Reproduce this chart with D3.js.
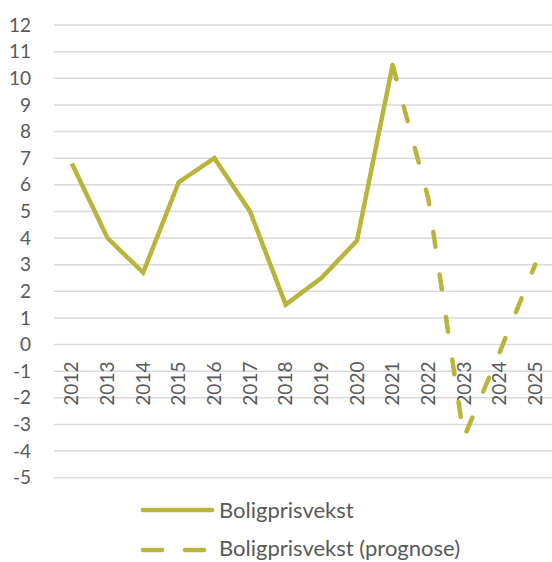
<!DOCTYPE html>
<html lang="no">
<head>
<meta charset="UTF-8">
<title>Boligprisvekst</title>
<script src="https://d3js.org/d3.v7.min.js"></script>
<style>
body { margin: 0; background: #fff; }
svg text { font-family: Lato, "Open Sans", sans-serif; fill: #595959; }
</style>
</head>
<body>
<div id="chart"></div>
<script>
// data
var years = ["2012","2013","2014","2015","2016","2017","2018","2019","2020","2021","2022","2023","2024","2025"];
var actualYears = ["2012","2013","2014","2015","2016","2017","2018","2019","2020","2021"];
var actualValues = [6.8, 4.0, 2.7, 6.1, 7.0, 5.0, 1.5, 2.5, 3.9, 10.5];
var forecastYears = ["2021","2022","2023","2024","2025"];
var forecastValues = [10.5, 5.5, -3.5, -0.3, 3.0];
var yTicks = [-5,-4,-3,-2,-1,0,1,2,3,4,5,6,7,8,9,10,11,12];
var seriesNames = ["Boligprisvekst", "Boligprisvekst (prognose)"];

var W = 552, H = 562;
var color = "#b9b53c";

var svg = d3.select("#chart").append("svg")
  .attr("width", W)
  .attr("height", H);

var x = d3.scalePoint()
  .domain(years)
  .range([54, 553])
  .padding(0.5);

var y = d3.scaleLinear()
  .domain([-5, 12])
  .range([477.7, 25]);

// gridlines
svg.append("g")
  .selectAll("line")
  .data(yTicks)
  .enter()
  .append("line")
    .attr("x1", 54)
    .attr("x2", 553)
    .attr("y1", function(d) { return y(d); })
    .attr("y2", function(d) { return y(d); })
    .style("stroke", "#d9d9d9")
    .style("stroke-width", 1.5);

// y labels
svg.append("g")
  .selectAll("text")
  .data(yTicks)
  .enter()
  .append("text")
    .attr("x", 31)
    .attr("y", function(d) { return y(d); })
    .attr("dy", "0.35em")
    .attr("text-anchor", "end")
    .style("font-size", "19px")
    .text(function(d) { return d; });

// x labels (rotated, hanging below the zero line)
svg.append("g")
  .selectAll("text")
  .data(years)
  .enter()
  .append("text")
    .attr("transform", function(d) { return "translate(" + x(d) + "," + (y(0) + 17) + ") rotate(-90)"; })
    .attr("text-anchor", "end")
    .attr("dy", "0.35em")
    .style("font-size", "19px")
    .text(function(d) { return d; });

var line = d3.line()
  .x(function(d) { return x(d[0]); })
  .y(function(d) { return y(d[1]); });

svg.append("path")
  .datum(d3.zip(actualYears, actualValues))
  .attr("d", line)
  .style("fill", "none")
  .style("stroke", color)
  .style("stroke-width", 4.5)
  .style("stroke-linejoin", "miter");

svg.append("path")
  .datum(d3.zip(forecastYears, forecastValues))
  .attr("d", line)
  .style("fill", "none")
  .style("stroke", color)
  .style("stroke-width", 4.5)
  .style("stroke-linecap", "round")
  .style("stroke-dasharray", "15,28");

// legend
var legend = svg.append("g");
legend.append("line")
  .attr("x1", 143).attr("x2", 212)
  .attr("y1", 510).attr("y2", 510)
  .style("stroke", color)
  .style("stroke-width", 4.5)
  .style("stroke-linecap", "round");
legend.append("text")
  .attr("x", 219).attr("y", 510)
  .attr("dy", "0.35em")
  .style("font-size", "22px")
  .text(seriesNames[0]);

legend.append("line")
  .attr("x1", 143).attr("x2", 206)
  .attr("y1", 550).attr("y2", 550)
  .style("stroke", color)
  .style("stroke-width", 4.5)
  .style("stroke-linecap", "round")
  .style("stroke-dasharray", "19,23");
legend.append("text")
  .attr("x", 219).attr("y", 548.5)
  .attr("dy", "0.35em")
  .style("font-size", "22px")
  .text(seriesNames[1]);
</script>
</body>
</html>
